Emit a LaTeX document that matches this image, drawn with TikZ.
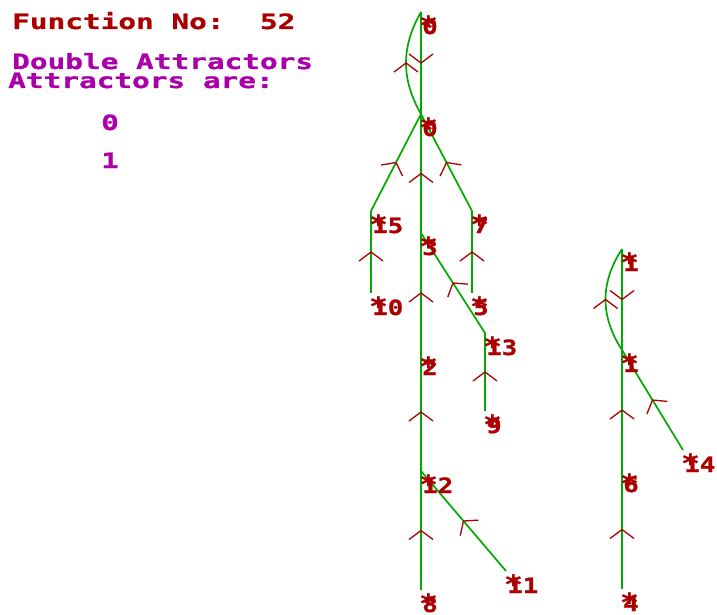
\documentclass[tikz,border=0pt]{standalone}
\usepackage{fontspec}
\usepackage{tikz}
\usetikzlibrary{positioning,calc}
\usetikzlibrary{decorations.markings}
\newfontfamily\retro[FakeStretch=1.40,FakeBold=1]{DejaVu Sans Mono}
\newfontfamily\retronum[FakeStretch=1.23,FakeBold=1]{DejaVu Sans Mono}
\definecolor{EgaRed}{RGB}{170,0,0}
\definecolor{EgaGreen}{RGB}{0,170,0}
\definecolor{EgaMagenta}{RGB}{170,0,170}
\newcommand\st{\rlap{\hspace*{-3pt}\raisebox{0pt}{\fontsize{25}{25}\selectfont *}}}
\tikzset{
  edge/.style={draw=EgaGreen,line width=1.7pt,postaction={decorate},
    decoration={markings,mark=at position 0.5 with {\draw[EgaRed,line width=1.3pt] (-9,12) -- (0,0) -- (-9,-12);}}},
  lab/.style={anchor=base west,inner sep=0pt,xshift=1pt,yshift=-22pt,text=EgaRed,
    font=\retronum\bfseries\fontsize{21}{21}\selectfont},
  hdr/.style={anchor=base west,inner sep=0pt,font=\retro\bfseries\fontsize{21}{22}\selectfont},
}

\begin{document}
\begin{tikzpicture}[x=1pt,y=-1pt]
\useasboundingbox (0,0) rectangle (717,615);
% header
\node[hdr,text=EgaRed] (title) at (12,29) {Function No:\ \ 52};
\node[hdr,text=EgaMagenta] (kind) at (12,69) {Double Attractors};
\node[hdr,text=EgaMagenta] (are) at (8,88) {Attractors are:};
\node[hdr,text=EgaMagenta] (att0) at (101,130) {0};
\node[hdr,text=EgaMagenta] (att1) at (101,168) {1};
% states of the first tree
\coordinate (s0a) at (421,12);
\coordinate (s0b) at (421,114);
\coordinate (s15) at (371,211);
\coordinate (s7) at (472,211);
\coordinate (s3) at (421,233);
\coordinate (s10) at (371,293);
\coordinate (s5) at (472,293);
\coordinate (s13) at (485,333);
\coordinate (s2) at (421,353);
\coordinate (s9) at (485,411);
\coordinate (s12) at (421,471);
\coordinate (s11) at (506,571);
\coordinate (s8) at (421,590);
% states of the second tree
\coordinate (s1a) at (622,249);
\coordinate (s1b) at (622,350);
\coordinate (s14) at (683,450);
\coordinate (s6) at (622,470);
\coordinate (s4) at (622,589);
% transitions
\draw[edge] (s0a) -- (s0b);
\draw[edge] (s0b) .. controls +(-20,-35) and +(-20,35) .. (s0a);
\draw[edge] (s3) -- (s0b);
\draw[edge] (s15) -- (s0b);
\draw[edge] (s7) -- (s0b);
\draw[edge] (s10) -- (s15);
\draw[edge] (s5) -- (s7);
\draw[edge] (s2) -- (s3);
\draw[edge] (s13) -- (s3);
\draw[edge] (s9) -- (s13);
\draw[edge] (s12) -- (s2);
\draw[edge] (s8) -- (s12);
\draw[edge] (s11) -- (s12);
\draw[edge] (s1a) -- (s1b);
\draw[edge] (s1b) .. controls +(-22,-34) and +(-22,34) .. (s1a);
\draw[edge] (s6) -- (s1b);
\draw[edge] (s14) -- (s1b);
\draw[edge] (s4) -- (s6);
% labels
\node[lab] (l0a) at (s0a) {\st 0};
\node[lab] (l0b) at (s0b) {\st 0};
\node[lab] (l15) at (s15) {\st 15};
\node[lab] (l7) at (s7) {\st 7};
\node[lab] (l3) at (s3) {\st 3};
\node[lab] (l10) at (s10) {\st 10};
\node[lab] (l5) at (s5) {\st 5};
\node[lab] (l13) at (s13) {\st 13};
\node[lab] (l2) at (s2) {\st 2};
\node[lab] (l9) at (s9) {\st 9};
\node[lab] (l12) at (s12) {\st 12};
\node[lab] (l11) at (s11) {\st 11};
\node[lab] (l8) at (s8) {\st 8};
\node[lab] (l1a) at (s1a) {\st 1};
\node[lab] (l1b) at (s1b) {\st 1};
\node[lab] (l14) at (s14) {\st 14};
\node[lab] (l6) at (s6) {\st 6};
\node[lab] (l4) at (s4) {\st 4};
\end{tikzpicture}
\end{document}
